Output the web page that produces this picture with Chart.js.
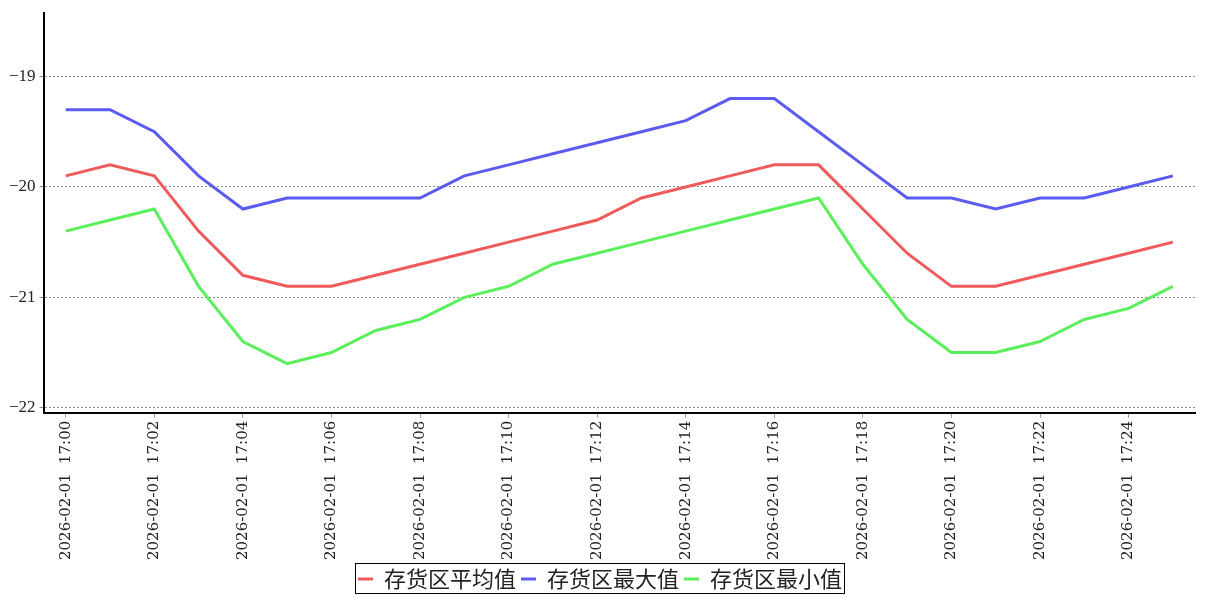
<!DOCTYPE html>
<html>
<head>
<meta charset="utf-8">
<script src="https://cdn.jsdelivr.net/npm/chart.js@4.4.1/dist/chart.umd.min.js"></script>
<style>
  html, body { margin: 0; padding: 0; background: #fff; }
  #wrap { width: 1207px; height: 600px; }
</style>
</head>
<body>
<div id="wrap"><canvas id="chart" width="1207" height="600"></canvas></div>
<script>
// minute labels 17:00 .. 17:25
const times = [
  "2026-02-01  17:00", "2026-02-01  17:01", "2026-02-01  17:02", "2026-02-01  17:03",
  "2026-02-01  17:04", "2026-02-01  17:05", "2026-02-01  17:06", "2026-02-01  17:07",
  "2026-02-01  17:08", "2026-02-01  17:09", "2026-02-01  17:10", "2026-02-01  17:11",
  "2026-02-01  17:12", "2026-02-01  17:13", "2026-02-01  17:14", "2026-02-01  17:15",
  "2026-02-01  17:16", "2026-02-01  17:17", "2026-02-01  17:18", "2026-02-01  17:19",
  "2026-02-01  17:20", "2026-02-01  17:21", "2026-02-01  17:22", "2026-02-01  17:23",
  "2026-02-01  17:24", "2026-02-01  17:25"
];

const avgValues = [
  -19.9, -19.8, -19.9, -20.4, -20.8, -20.9, -20.9, -20.8, -20.7, -20.6, -20.5, -20.4, -20.3,
  -20.1, -20.0, -19.9, -19.8, -19.8, -20.2, -20.6, -20.9, -20.9, -20.8, -20.7, -20.6, -20.5
];
const maxValues = [
  -19.3, -19.3, -19.5, -19.9, -20.2, -20.1, -20.1, -20.1, -20.1, -19.9, -19.8, -19.7, -19.6,
  -19.5, -19.4, -19.2, -19.2, -19.5, -19.8, -20.1, -20.1, -20.2, -20.1, -20.1, -20.0, -19.9
];
const minValues = [
  -20.4, -20.3, -20.2, -20.9, -21.4, -21.6, -21.5, -21.3, -21.2, -21.0, -20.9, -20.7, -20.6,
  -20.5, -20.4, -20.3, -20.2, -20.1, -20.7, -21.2, -21.5, -21.5, -21.4, -21.2, -21.1, -20.9
];

const yTicks = [-22, -21, -20, -19];

const serif = "'Liberation Serif', 'DejaVu Serif', serif";

// box around the legend items
const legendFrame = {
  id: "legendFrame",
  afterDraw(chart) {
    const boxes = chart.legend && chart.legend.legendHitBoxes;
    if (!boxes || !boxes.length) return;
    let l = Infinity, r = -Infinity, t = Infinity, b = -Infinity;
    boxes.forEach((h) => {
      l = Math.min(l, h.left);
      r = Math.max(r, h.left + h.width);
      t = Math.min(t, h.top);
      b = Math.max(b, h.top + h.height);
    });
    const ctx = chart.ctx;
    ctx.save();
    ctx.strokeStyle = "#000";
    ctx.lineWidth = 1;
    ctx.strokeRect(Math.round(l - 3) + 0.5, Math.round(t - 5) + 0.5, Math.round(r - l + 5), Math.round(b - t + 8));
    ctx.restore();
  },
};

function makeSet(label, data, color) {
  return {
    label: label,
    data: data,
    borderColor: color,
    backgroundColor: color,
    borderWidth: 3,
    pointRadius: 0,
    tension: 0,
    fill: false,
  };
}

new Chart(document.getElementById("chart"), {
  type: "line",
  data: {
    labels: times,
    datasets: [
      makeSet("存货区平均值", avgValues, "#ef5b5b"),
      makeSet("存货区最大值", maxValues, "#5b5bef"),
      makeSet("存货区最小值", minValues, "#5bef5b"),
    ],
  },
  options: {
    responsive: false,
    animation: false,
    layout: { padding: { left: 5, right: 12, top: 8, bottom: 0 } },
    scales: {
      x: {
        offset: true,
        grid: {
          drawOnChartArea: false,
          drawTicks: true,
          tickLength: 5,
          tickColor: "#999",
        },
        border: { display: true, color: "#000", width: 2 },
        ticks: {
          autoSkip: false,
          minRotation: 90,
          maxRotation: 90,
          color: "#222",
          font: { family: "'DejaVu Serif', serif", size: 15 },
          callback: function (value, index) {
            return index % 2 === 0 ? times[index] : null;
          },
        },
      },
      y: {
        min: -22.045,
        max: -18.42,
        afterBuildTicks: (axis) => {
          axis.ticks = yTicks.map((v) => ({ value: v }));
        },
        grid: {
          color: "#888",
          lineWidth: 1,
          drawTicks: true,
          tickLength: 4,
          tickColor: "#888",
        },
        border: { display: true, color: "#000", width: 2, dash: [2, 2] },
        ticks: {
          color: "#222",
          font: { family: serif, size: 17, lineHeight: 1 },
          padding: 4,
          callback: (v) => String(v).replace("-", "\u2212"),
        },
      },
    },
    plugins: {
      legend: {
        position: "bottom",
        labels: {
          color: "#222",
          font: { family: "'Noto Sans CJK SC', sans-serif", size: 22 },
          usePointStyle: true,
          pointStyle: "line",
          pointStyleWidth: 15,
          boxHeight: 3,
          padding: 5,
        },
      },
      tooltip: { enabled: false },
    },
  },
  plugins: [legendFrame],
});
</script>
</body>
</html>
